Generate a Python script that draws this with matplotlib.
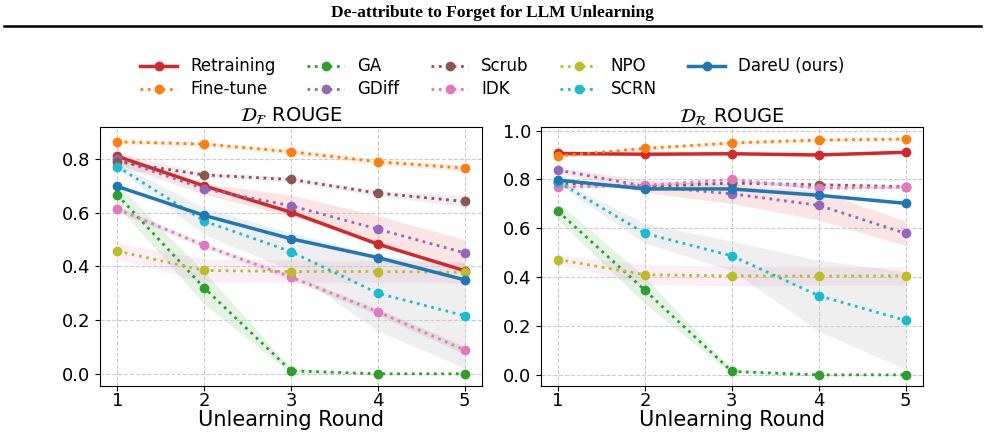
import numpy as np
import matplotlib
matplotlib.use("Agg")
import matplotlib.pyplot as plt
from matplotlib.lines import Line2D

rounds = [1, 2, 3, 4, 5]
methods = ["Retraining", "Fine-tune", "GA", "GDiff", "Scrub", "IDK", "NPO", "SCRN", "DareU (ours)"]
line_colors = ["tab:red", "tab:orange", "tab:green", "tab:purple", "tab:brown",
               "tab:pink", "tab:olive", "tab:cyan", "tab:blue"]
band_colors = ["tab:red", "tab:orange", "tab:green", "tab:red", "tab:purple",
               "tab:brown", "tab:pink", "tab:gray", "tab:blue"]

# D_F ROUGE (forget set)
forget_mean = {
    "Retraining":   [0.810, 0.700, 0.602, 0.483, 0.384],
    "Fine-tune":    [0.864, 0.856, 0.827, 0.790, 0.766],
    "GA":           [0.666, 0.320, 0.011, 0.000, 0.000],
    "GDiff":        [0.800, 0.689, 0.626, 0.539, 0.450],
    "Scrub":        [0.790, 0.741, 0.724, 0.673, 0.642],
    "IDK":          [0.614, 0.478, 0.360, 0.231, 0.088],
    "NPO":          [0.457, 0.385, 0.381, 0.381, 0.378],
    "SCRN":         [0.772, 0.569, 0.455, 0.300, 0.216],
    "DareU (ours)": [0.698, 0.590, 0.503, 0.433, 0.350],
}
forget_std = {
    "Retraining":   [0.005, 0.005, 0.005, 0.005, 0.005],
    "Fine-tune":    [0.008, 0.008, 0.010, 0.010, 0.012],
    "GA":           [0.040, 0.060, 0.010, 0.000, 0.000],
    "GDiff":        [0.020, 0.020, 0.040, 0.050, 0.050],
    "Scrub":        [0.030, 0.010, 0.010, 0.010, 0.020],
    "IDK":          [0.010, 0.010, 0.010, 0.012, 0.015],
    "NPO":          [0.030, 0.043, 0.043, 0.040, 0.040],
    "SCRN":         [0.010, 0.050, 0.070, 0.140, 0.195],
    "DareU (ours)": [0.005, 0.005, 0.005, 0.005, 0.005],
}

# D_R ROUGE (retain set)
retain_mean = {
    "Retraining":   [0.906, 0.903, 0.905, 0.900, 0.911],
    "Fine-tune":    [0.896, 0.927, 0.949, 0.961, 0.965],
    "GA":           [0.669, 0.346, 0.014, 0.000, 0.000],
    "GDiff":        [0.838, 0.772, 0.741, 0.694, 0.579],
    "Scrub":        [0.785, 0.770, 0.785, 0.778, 0.770],
    "IDK":          [0.768, 0.776, 0.800, 0.764, 0.768],
    "NPO":          [0.472, 0.410, 0.405, 0.404, 0.405],
    "SCRN":         [0.790, 0.579, 0.487, 0.324, 0.223],
    "DareU (ours)": [0.797, 0.761, 0.761, 0.735, 0.702],
}
retain_std = {
    "Retraining":   [0.005, 0.005, 0.005, 0.005, 0.005],
    "Fine-tune":    [0.008, 0.008, 0.008, 0.008, 0.008],
    "GA":           [0.035, 0.055, 0.010, 0.000, 0.000],
    "GDiff":        [0.010, 0.025, 0.040, 0.060, 0.050],
    "Scrub":        [0.010, 0.010, 0.010, 0.010, 0.010],
    "IDK":          [0.005, 0.005, 0.005, 0.005, 0.005],
    "NPO":          [0.020, 0.040, 0.040, 0.038, 0.038],
    "SCRN":         [0.010, 0.040, 0.060, 0.145, 0.200],
    "DareU (ours)": [0.005, 0.005, 0.005, 0.005, 0.005],
}

fig = plt.figure(figsize=(9.85, 4.42), dpi=100)

# paper header
fig.text(0.5, 0.970, "De-attribute to Forget for LLM Unlearning", ha="center", va="center",
         fontsize=12.5, fontweight="bold", family="Liberation Serif")
fig.add_artist(Line2D([0.004, 0.996], [0.942, 0.942], color="black", lw=1.8))

ax1 = fig.add_axes([0.1015, 0.127, 0.388, 0.586])
ax2 = fig.add_axes([0.549, 0.127, 0.388, 0.586])

def draw(ax, mean, std, title, ylim, yticks):
    for m, lc, bc in zip(methods, line_colors, band_colors):
        y = np.array(mean[m])
        s = np.array(std[m])
        solid = m in ("Retraining", "DareU (ours)")
        ax.fill_between(rounds, y - s, y + s, color=bc, alpha=0.12, lw=0)
        ax.plot(rounds, y, marker="o", markersize=6, color=lc,
                linestyle="-" if solid else ":", lw=2.5 if solid else 2, label=m)
    ax.set_title(title, fontsize=14, pad=4)
    ax.set_xticks(rounds)
    ax.set_xlim(0.8, 5.2)
    ax.set_ylim(*ylim)
    ax.set_yticks(yticks)
    ax.tick_params(labelsize=13)
    ax.tick_params(axis="x", pad=1)
    ax.set_xlabel("Unlearning Round", fontsize=15, labelpad=0)
    ax.grid(True, linestyle="--", color="#cccccc", lw=0.8)

draw(ax1, forget_mean, forget_std, r"$\mathcal{D}_\mathcal{F}$ ROUGE", (-0.045, 0.92),
     [0.0, 0.2, 0.4, 0.6, 0.8])
draw(ax2, retain_mean, retain_std, r"$\mathcal{D}_\mathcal{R}$ ROUGE", (-0.045, 1.015),
     [0.0, 0.2, 0.4, 0.6, 0.8, 1.0])

handles, labels = ax1.get_legend_handles_labels()
fig.legend(handles, labels, loc="upper center", bbox_to_anchor=(0.5, 0.885), ncol=5,
           frameon=False, fontsize=12, handlelength=2.2, columnspacing=1.9,
           labelspacing=0.3, borderaxespad=0)

fig.savefig("out.png", dpi=100)
